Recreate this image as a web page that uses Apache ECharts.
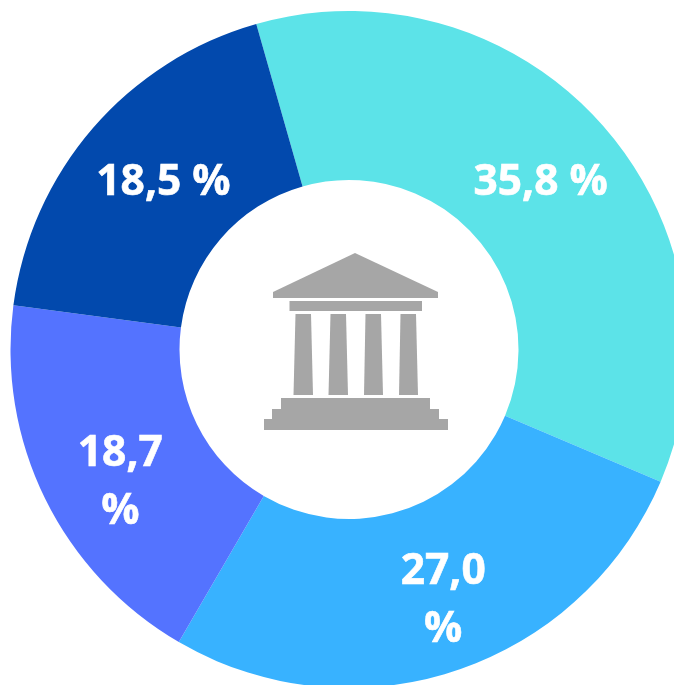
<!DOCTYPE html>
<html><head><meta charset="utf-8">
<style>html,body{margin:0;padding:0;background:#fff;overflow:hidden}#c{width:674px;height:685px}</style>
<script src="https://cdn.jsdelivr.net/npm/echarts@6/dist/echarts.min.js"></script>
</head><body><div id="c"></div>
<script>
const categories = ['A', 'B', 'C', 'D'];
const values = [35.8, 27.0, 18.7, 18.5];
const labelTexts = ['35,8 %', '27,0\n%', '18,7\n%', '18,5 %'];
const colors = ['#5CE3E8', '#38B2FF', '#5473FF', '#0249AD'];
const labelOffsets = [[-1, 4], [13, 8], [2, 20], [9, 1]];

const iconPolygons = [
  [[355,253],[438,292],[438,298],[273,298],[273,292]],
  [[289.5,301],[422,301],[422,311],[289.5,311]],
  [[295.5,314],[311,314],[313,395],[293.5,395]],
  [[330.5,314],[346,314],[348,395],[328.5,395]],
  [[365.5,314],[381,314],[383,395],[364,395]],
  [[400.5,314],[416,314],[418,395],[399,395]],
  [[281,398],[430,398],[430,409],[439,409],[439,419],[448,419],[448,430],[264,430],[264,419],[272,419],[272,409],[281,409]]
];

const chart = echarts.init(document.getElementById('c'), null, {renderer: 'canvas'});
chart.setOption({
  animation: false,
  backgroundColor: '#ffffff',
  graphic: iconPolygons.map(points => ({
    type: 'polygon', silent: true, shape: {points}, style: {fill: '#A6A6A6'}
  })),
  series: [{
    type: 'pie',
    center: [349, 349.5],
    radius: [169.5, 338.5],
    startAngle: 105.9,
    clockwise: true,
    silent: true,
    label: {
      show: true, position: 'inside', color: '#fff',
      fontFamily: '"Open Sans"', fontWeight: 700, fontSize: 42.5, lineHeight: 58,
      textBorderColor: '#fff', textBorderWidth: 0.6
    },
    labelLine: {show: false},
    data: categories.map((name, i) => ({
      name, value: values[i],
      itemStyle: {color: colors[i]},
      label: {formatter: labelTexts[i], offset: labelOffsets[i]}
    }))
  }]
});
</script></body></html>
